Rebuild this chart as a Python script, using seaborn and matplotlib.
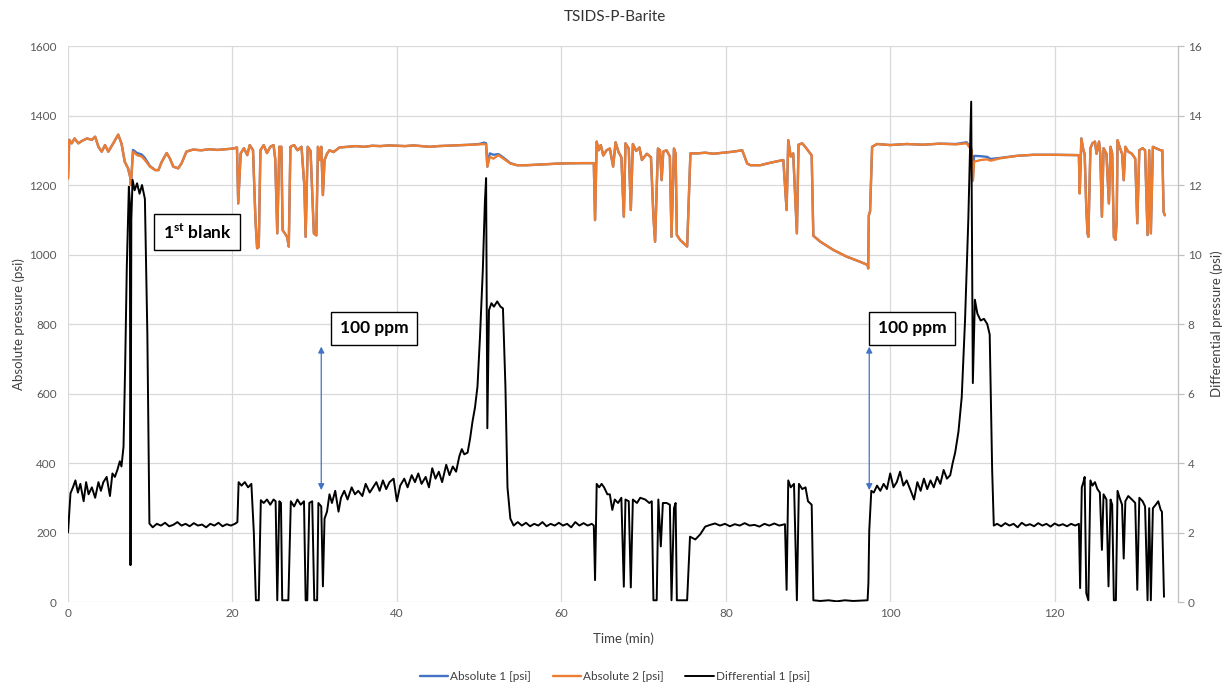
import numpy as np
import pandas as pd
import seaborn as sns
import matplotlib.pyplot as plt

# differential pressure trace (right axis, psi)
TIME_DIFF = [
    0.0, 0.3, 0.6, 0.9, 1.2, 1.5, 1.9, 2.2, 2.5, 2.9,
    3.3, 3.7, 4.0, 4.3, 4.7, 5.1, 5.4, 5.7, 6.0, 6.3,
    6.5, 6.75, 6.95, 7.15, 7.4, 7.52, 7.6, 7.7, 7.85, 8.1,
    8.4, 8.7, 9.0, 9.35, 9.65, 9.9, 10.3, 10.8, 11.3, 11.8,
    12.3, 12.8, 13.3, 13.8, 14.3, 14.8, 15.3, 15.8, 16.3, 16.8,
    17.3, 17.8, 18.3, 18.8, 19.3, 19.8, 20.3, 20.6, 20.75, 21.1,
    21.5, 21.9, 22.3, 22.6, 22.85, 23.2, 23.45, 23.8, 24.2, 24.6,
    25.0, 25.25, 25.45, 25.7, 25.9, 26.05, 26.8, 27.1, 27.5, 27.9,
    28.3, 28.7, 28.9, 29.1, 29.35, 29.7, 29.95, 30.3, 30.45, 30.8,
    31.0, 31.2, 31.5, 31.8, 32.1, 32.5, 32.9, 33.2, 33.6, 34.0,
    34.5, 34.9, 35.3, 35.8, 36.2, 36.7, 37.1, 37.5, 37.9, 38.3,
    38.7, 39.1, 39.6, 40.0, 40.4, 40.9, 41.3, 41.8, 42.2, 42.6,
    43.0, 43.5, 43.9, 44.3, 44.7, 45.1, 45.5, 46.0, 46.4, 46.8,
    47.2, 47.6, 47.9, 48.2, 48.6, 48.9, 49.2, 49.5, 49.8, 50.1,
    50.45, 50.7, 50.85, 51.0, 51.2, 51.5, 51.8, 52.2, 52.6, 52.9,
    53.2, 53.45, 53.8, 54.2, 54.7, 55.2, 55.7, 56.2, 56.7, 57.2,
    57.7, 58.2, 58.7, 59.2, 59.7, 60.2, 60.7, 61.2, 61.7, 62.2,
    62.7, 63.2, 63.7, 63.95, 64.1, 64.3, 64.6, 64.9, 65.2, 65.6,
    65.9, 66.2, 66.5, 66.9, 67.3, 67.6, 67.8, 68.2, 68.45, 68.7,
    69.2, 69.6, 70.2, 70.7, 71.0, 71.2, 71.6, 71.8, 72.1, 72.35,
    72.8, 73.2, 73.4, 73.7, 73.9, 74.05, 75.3, 75.65, 76.3, 76.9,
    77.5, 78.1, 78.7, 79.3, 79.9, 80.5, 81.1, 81.7, 82.3, 82.9,
    83.5, 84.1, 84.7, 85.3, 85.9, 86.5, 87.2, 87.4, 87.6, 87.9,
    88.3, 88.65, 88.9, 89.3, 89.7, 90.0, 90.45, 90.65, 91.5, 92.5,
    93.5, 94.5, 95.5, 96.5, 97.25, 97.35, 97.45, 97.7, 98.0, 98.4,
    98.8, 99.2, 99.6, 100.0, 100.4, 100.8, 101.2, 101.6, 102.0, 102.5,
    102.9, 103.3, 103.7, 104.1, 104.5, 104.9, 105.3, 105.7, 106.1, 106.5,
    106.9, 107.3, 107.6, 107.9, 108.3, 108.7, 109.1, 109.5, 109.85, 110.05,
    110.3, 110.6, 111.0, 111.4, 111.8, 112.1, 112.4, 112.6, 113.0, 113.5,
    114.0, 114.5, 115.0, 115.5, 116.0, 116.5, 117.0, 117.5, 118.0, 118.5,
    119.0, 119.5, 120.0, 120.5, 121.0, 121.5, 122.0, 122.5, 122.95, 123.1,
    123.3, 123.5, 123.65, 123.85, 124.1, 124.35, 124.6, 124.9, 125.2, 125.5,
    125.75, 125.95, 126.3, 126.55, 126.8, 127.0, 127.2, 127.45, 127.65, 127.9,
    128.2, 128.4, 128.6, 128.95, 129.4, 129.8, 130.05, 130.3, 130.7, 131.0,
    131.3, 131.5, 131.7, 131.95, 132.3, 132.6, 132.9, 133.05, 133.3,
]
DIFF_1 = [
    2.0, 3.13, 3.3, 3.5, 3.15, 3.4, 2.9, 3.45, 3.1, 3.3,
    3.0, 3.45, 3.2, 3.45, 3.6, 3.05, 3.7, 3.6, 3.8, 4.05,
    3.9, 4.47, 6.8, 9.65, 11.95, 11.5, 1.06, 11.0, 12.15, 11.85,
    12.05, 11.75, 12.0, 11.6, 7.7, 2.26, 2.15, 2.25, 2.2, 2.28,
    2.18, 2.22, 2.3, 2.2, 2.25, 2.18, 2.27, 2.2, 2.23, 2.15,
    2.25, 2.2, 2.28, 2.18, 2.24, 2.2, 2.25, 2.3, 3.45, 3.35,
    3.45, 3.3, 3.4, 2.0, 0.05, 0.05, 2.93, 2.85, 2.95, 2.8,
    2.95, 2.9, 0.05, 2.9, 2.85, 0.05, 0.05, 2.9, 2.75, 2.95,
    2.8, 2.9, 0.05, 0.05, 2.85, 2.9, 0.05, 0.05, 2.85, 2.75,
    0.45, 2.4, 2.6, 3.1, 2.85, 3.2, 2.6, 3.0, 3.2, 2.95,
    3.3, 3.1, 3.2, 3.05, 3.4, 3.15, 3.3, 3.45, 3.2, 3.5,
    3.25, 3.45, 3.55, 2.9, 3.35, 3.55, 3.3, 3.65, 3.45, 3.7,
    3.4, 3.6, 3.3, 3.85, 3.55, 3.75, 3.45, 3.95, 3.65, 3.9,
    3.75, 4.2, 4.4, 4.25, 4.3, 4.7, 5.2, 5.6, 6.2, 7.6,
    9.55, 11.5, 12.2, 5.0, 8.4, 8.6, 8.5, 8.65, 8.5, 8.45,
    6.2, 3.3, 2.4, 2.2, 2.3, 2.2, 2.28, 2.18, 2.25, 2.2,
    2.3, 2.18, 2.25, 2.2, 2.28, 2.2, 2.25, 2.15, 2.3, 2.2,
    2.27, 2.2, 2.25, 2.2, 0.63, 3.4, 3.3, 3.4, 3.3, 3.1,
    3.1, 2.65, 2.95, 2.85, 3.0, 0.44, 2.95, 2.9, 0.42, 2.95,
    2.85, 3.0, 2.95, 2.85, 2.9, 0.05, 0.05, 2.95, 1.6, 2.85,
    2.85, 2.8, 0.05, 2.7, 2.85, 0.05, 0.05, 1.88, 1.8, 1.95,
    2.17, 2.22, 2.26, 2.2, 2.25, 2.18, 2.24, 2.2, 2.27, 2.2,
    2.22, 2.17, 2.25, 2.2, 2.26, 2.2, 2.24, 0.35, 3.5, 3.3,
    3.4, 0.05, 3.4, 3.25, 3.3, 2.9, 2.8, 0.05, 0.03, 0.05,
    0.02, 0.05, 0.03, 0.04, 0.05, 0.55, 2.05, 3.2, 3.15, 3.35,
    3.2, 3.4, 3.25, 3.7, 3.3, 3.45, 3.75, 3.35, 3.5, 3.2,
    2.95, 3.45, 3.2, 3.55, 3.25, 3.5, 3.3, 3.6, 3.4, 3.8,
    3.55, 3.65, 4.0, 4.3, 4.9, 5.9, 8.1, 11.0, 14.4, 6.3,
    8.7, 8.3, 8.1, 8.15, 8.0, 7.7, 3.8, 2.2, 2.25, 2.18,
    2.27, 2.2, 2.25, 2.15, 2.28, 2.2, 2.24, 2.18, 2.27, 2.2,
    2.25, 2.17, 2.26, 2.2, 2.24, 2.18, 2.25, 2.2, 2.25, 0.4,
    3.3, 3.45, 3.6, 0.25, 0.05, 3.5, 3.35, 3.45, 3.25, 3.15,
    1.5, 3.1, 2.95, 0.45, 2.95, 2.8, 0.05, 0.05, 3.2, 3.0,
    2.8, 1.25, 2.9, 3.05, 2.95, 2.85, 0.35, 3.0, 2.9, 2.75,
    0.05, 2.7, 0.05, 2.7, 2.8, 2.9, 2.65, 2.6, 0.15,
]

# absolute pressure traces (left axis, psi)
TIME_ABS = [
    0.0, 0.15, 0.45, 0.8, 1.25, 1.7, 2.3, 2.9, 3.3, 3.7,
    4.1, 4.5, 4.9, 5.5, 6.1, 6.5, 6.9, 7.3, 7.55, 7.65,
    7.9, 8.4, 8.95, 9.35, 9.95, 10.6, 11.0, 11.4, 12.0, 12.4,
    12.8, 13.4, 13.8, 14.4, 15.2, 16.2, 17.2, 18.2, 19.2, 20.1,
    20.55, 20.7, 21.0, 21.4, 21.8, 22.1, 22.5, 22.8, 23.0, 23.2,
    23.4, 23.8, 24.2, 24.6, 25.0, 25.2, 25.45, 25.7, 25.95, 26.1,
    26.4, 26.65, 26.85, 27.05, 27.5, 27.9, 28.4, 28.75, 28.9, 29.15,
    29.5, 29.9, 30.2, 30.4, 30.6, 30.8, 31.0, 31.2, 31.5, 31.8,
    32.3, 33.0, 34.0, 35.0, 36.0, 37.0, 38.0, 39.0, 40.0, 41.0,
    42.0, 43.0, 44.0, 45.0, 46.0, 47.0, 48.0, 49.0, 50.0, 50.6,
    50.85, 51.0, 51.3, 51.75, 52.35, 52.95, 53.8, 54.6, 55.8, 57.4,
    59.9, 62.3, 63.95, 64.1, 64.3, 64.55, 64.8, 65.1, 65.5, 65.9,
    66.3, 66.6, 66.95, 67.3, 67.6, 67.8, 68.2, 68.45, 68.7, 69.1,
    69.5, 69.8, 70.4, 70.9, 71.2, 71.4, 71.75, 72.0, 72.2, 72.4,
    72.8, 73.2, 73.4, 73.7, 73.9, 74.05, 74.45, 74.9, 75.3, 75.7,
    76.5, 77.5, 78.5, 79.7, 80.9, 82.0, 82.6, 83.0, 84.2, 85.4,
    87.0, 87.4, 87.6, 87.9, 88.2, 88.65, 88.85, 89.3, 89.8, 90.3,
    90.45, 90.65, 91.5, 93.1, 94.7, 96.35, 97.25, 97.32, 97.4, 97.55,
    97.8, 98.4, 100.0, 102.0, 104.0, 106.0, 108.0, 109.3, 109.9, 110.05,
    110.2, 111.0, 111.8, 112.2, 113.4, 115.4, 117.4, 120.0, 122.95, 123.05,
    123.25, 123.5, 123.65, 123.85, 124.0, 124.1, 124.35, 124.6, 124.9, 125.1,
    125.4, 125.55, 125.75, 125.95, 126.3, 126.6, 126.8, 127.0, 127.2, 127.4,
    127.55, 127.65, 127.9, 128.2, 128.4, 128.6, 128.95, 129.4, 129.8, 130.05,
    130.3, 130.7, 131.0, 131.3, 131.5, 131.7, 131.95, 132.3, 132.9, 133.1,
    133.25, 133.4,
]
ABS_2 = [
    1219, 1330, 1320, 1334, 1320, 1327, 1334, 1330, 1339, 1310,
    1296, 1315, 1296, 1320, 1345, 1320, 1267, 1248, 1224, 1200,
    1296, 1286, 1282, 1272, 1253, 1243, 1243, 1267, 1292, 1276,
    1253, 1248, 1262, 1296, 1302, 1300, 1303, 1301, 1303, 1305,
    1308, 1147, 1291, 1306, 1286, 1315, 1300, 1099, 1018, 1022,
    1300, 1315, 1292, 1310, 1315, 1275, 1061, 1310, 1310, 1070,
    1060, 1050, 1023, 1310, 1315, 1300, 1310, 1195, 1051, 1310,
    1298, 1061, 1055, 1310, 1272, 1310, 1171, 1272, 1290, 1300,
    1295, 1308, 1310, 1312, 1310, 1313, 1312, 1314, 1313, 1312,
    1314, 1312, 1310, 1312, 1313, 1314, 1315, 1316, 1317, 1318,
    1316, 1253, 1281, 1276, 1286, 1276, 1262, 1257, 1257, 1259,
    1262, 1263, 1263, 1099, 1325, 1300, 1315, 1285, 1300, 1305,
    1253, 1323, 1295, 1280, 1109, 1320, 1305, 1128, 1318, 1298,
    1308, 1272, 1290, 1280, 1109, 1037, 1305, 1300, 1214, 1296,
    1300, 1282, 1051, 1305, 1290, 1056, 1042, 1032, 1023, 1291,
    1291, 1293, 1290, 1293, 1296, 1300, 1262, 1257, 1257, 1264,
    1272, 1128, 1329, 1282, 1291, 1061, 1316, 1320, 1306, 1290,
    1285, 1054, 1037, 1013, 994, 979, 970, 960, 1113, 1124,
    1310, 1318, 1315, 1318, 1316, 1319, 1317, 1320, 1300, 1213,
    1267, 1272, 1274, 1270, 1277, 1284, 1287, 1287, 1286, 1176,
    1334, 1300, 1290, 1133, 1061, 1051, 1306, 1320, 1325, 1290,
    1325, 1290, 1109, 1306, 1290, 1147, 1310, 1290, 1051, 1042,
    1099, 1329, 1310, 1290, 1214, 1310, 1296, 1290, 1276, 1090,
    1300, 1306, 1300, 1056, 1300, 1061, 1310, 1306, 1300, 1300,
    1123, 1113,
]
ABS_1 = [
    1219, 1330, 1320, 1334, 1320, 1327, 1334, 1330, 1339, 1310,
    1296, 1315, 1296, 1320, 1345, 1320, 1267, 1248, 1224, 1200,
    1301, 1292, 1288, 1278, 1255, 1243, 1243, 1267, 1292, 1276,
    1253, 1248, 1262, 1296, 1302, 1300, 1303, 1301, 1303, 1305,
    1308, 1147, 1291, 1306, 1286, 1315, 1300, 1099, 1018, 1022,
    1300, 1315, 1292, 1310, 1315, 1275, 1061, 1310, 1310, 1070,
    1060, 1050, 1023, 1310, 1315, 1300, 1310, 1195, 1051, 1310,
    1298, 1061, 1055, 1310, 1272, 1310, 1171, 1272, 1290, 1300,
    1295, 1308, 1310, 1312, 1310, 1313, 1312, 1314, 1313, 1312,
    1314, 1312, 1310, 1312, 1313, 1314, 1315, 1316, 1318, 1322,
    1320, 1253, 1291, 1287, 1289, 1279, 1263, 1257, 1257, 1259,
    1262, 1263, 1263, 1099, 1325, 1300, 1315, 1285, 1300, 1305,
    1253, 1323, 1295, 1280, 1109, 1320, 1305, 1128, 1318, 1298,
    1308, 1272, 1290, 1280, 1109, 1037, 1305, 1300, 1214, 1296,
    1300, 1282, 1051, 1305, 1290, 1056, 1042, 1032, 1023, 1291,
    1291, 1293, 1290, 1293, 1296, 1300, 1262, 1257, 1257, 1264,
    1272, 1128, 1329, 1282, 1291, 1061, 1316, 1320, 1306, 1290,
    1285, 1054, 1037, 1013, 994, 979, 970, 960, 1113, 1124,
    1310, 1318, 1315, 1318, 1316, 1319, 1318, 1323, 1302, 1213,
    1284, 1283, 1281, 1275, 1278, 1284, 1287, 1287, 1286, 1176,
    1334, 1300, 1290, 1133, 1061, 1051, 1306, 1320, 1325, 1290,
    1325, 1290, 1109, 1306, 1290, 1147, 1310, 1290, 1051, 1042,
    1099, 1329, 1310, 1290, 1214, 1310, 1296, 1290, 1276, 1090,
    1300, 1306, 1300, 1056, 1300, 1061, 1310, 1306, 1300, 1300,
    1123, 1113,
]

X_TICKS = [0, 20, 40, 60, 80, 100, 120]
LEFT_TICKS = [0, 200, 400, 600, 800, 1000, 1200, 1400, 1600]
RIGHT_TICKS = [0, 2, 4, 6, 8, 10, 12, 14, 16]

BLUE = '#4472C4'
ORANGE = '#ED7D31'
GRID = '#D9D9D9'
TICK_TEXT = '#595959'


def add_box(ax, x, y, text):
    ax.text(x, y, text, ha='center', va='center', fontsize=12.5,
            fontweight='bold', color='black', zorder=6,
            bbox=dict(boxstyle='square,pad=0.5', fc='white', ec='black', lw=1.0))


def add_arrow(ax, x, y0, y1):
    ax.annotate('', xy=(x, y1), xytext=(x, y0), zorder=6,
                arrowprops=dict(arrowstyle='<|-|>', color=BLUE, lw=0.9,
                                mutation_scale=9, shrinkA=0, shrinkB=0))


def main():
    sns.set_theme(style='white')
    plt.rcParams['font.family'] = ['Lato', 'DejaVu Sans']
    plt.rcParams['mathtext.fontset'] = 'custom'
    plt.rcParams['mathtext.rm'] = 'Lato'
    plt.rcParams['mathtext.bf'] = 'Lato:bold'

    assert len(TIME_DIFF) == len(DIFF_1)
    assert len(TIME_ABS) == len(ABS_1) == len(ABS_2)
    abs_df = pd.DataFrame({'time': TIME_ABS, 'abs1': ABS_1, 'abs2': ABS_2})
    diff_df = pd.DataFrame({'time': TIME_DIFF, 'diff1': DIFF_1})

    fig = plt.figure(figsize=(12.3, 6.87), dpi=100)
    ax = fig.add_axes([0.0553, 0.1237, 0.9024, 0.8093])
    ax2 = ax.twinx()

    sns.lineplot(data=abs_df, x='time', y='abs1', ax=ax, color=BLUE, lw=1.7,
                 estimator=None, sort=False, label='Absolute 1 [psi]', legend=False)
    sns.lineplot(data=abs_df, x='time', y='abs2', ax=ax, color=ORANGE, lw=1.7,
                 estimator=None, sort=False, label='Absolute 2 [psi]', legend=False)
    sns.lineplot(data=diff_df, x='time', y='diff1', ax=ax2, color='black', lw=1.4,
                 estimator=None, sort=False, label='Differential 1 [psi]', legend=False)

    ax.set_xlim(0, 135)
    ax.set_ylim(0, 1600)
    ax2.set_ylim(0, 16)
    ax.set_xticks(X_TICKS)
    ax.set_yticks(LEFT_TICKS)
    ax2.set_yticks(RIGHT_TICKS)

    ax.grid(True, color=GRID, lw=0.9)
    ax.set_axisbelow(True)
    ax2.grid(False)
    for s in ax.spines.values():
        s.set_visible(False)
    for name, s in ax2.spines.items():
        s.set_visible(name == 'right')
    ax2.spines['right'].set_color('#BFBFBF')
    ax2.spines['right'].set_linewidth(0.9)

    ax.tick_params(axis='both', length=0, labelsize=8.5, labelcolor=TICK_TEXT)
    ax.tick_params(axis='y', pad=8)
    ax.tick_params(axis='x', pad=4)
    ax2.tick_params(axis='y', length=4, width=0.9, color='#BFBFBF', direction='out',
                    labelsize=8.5, labelcolor=TICK_TEXT, pad=3)

    ax.set_xlabel('Time (min)', fontsize=9.5, color='#404040')
    ax.set_ylabel('Absolute pressure (psi)', fontsize=9.5, color='#404040')
    ax2.set_ylabel('Differential pressure (psi)', fontsize=9.5, color='#404040')
    ax.xaxis.set_label_coords(0.5, -0.055)
    ax.yaxis.set_label_coords(-0.039, 0.5)
    ax2.yaxis.set_label_coords(1.029, 0.5)

    fig.text(0.5, 0.975, 'TSIDS-P-Barite', ha='center', va='center',
             fontsize=11, color='#333333')

    add_box(ax, 15.7, 1065, r'1$^{\mathbf{st}}$ blank')
    add_box(ax, 37.2, 788, '100 ppm')
    add_box(ax, 102.7, 788, '100 ppm')
    add_arrow(ax, 30.8, 322, 735)
    add_arrow(ax, 97.45, 322, 735)

    h1, l1 = ax.get_legend_handles_labels()
    h2, l2 = ax2.get_legend_handles_labels()
    fig.legend(h1 + h2, l1 + l2, loc='center', bbox_to_anchor=(0.5, 0.015), ncol=3,
               frameon=False, fontsize=8.5, handlelength=2.4, handletextpad=0.2,
               columnspacing=1.8, labelcolor='#404040')

    fig.savefig('out.png', dpi=100)


if __name__ == '__main__':
    main()
